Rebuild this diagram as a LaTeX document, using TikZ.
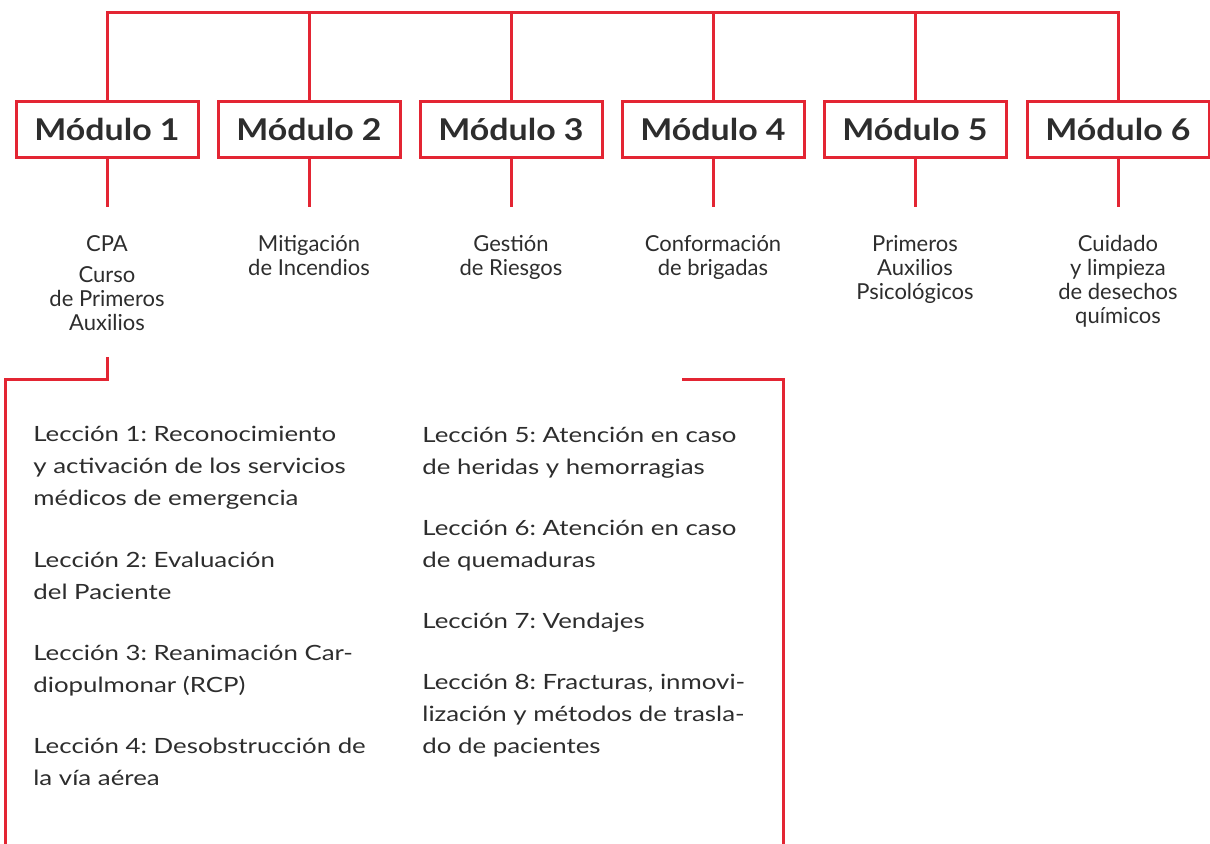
\documentclass[tikz,border=0pt]{standalone}
\usepackage{fontspec}
\setmainfont{Lato}
\newfontfamily\modfont{Lato}[FakeStretch=1.13]
\newfontfamily\lessonfont{Lato}[FakeStretch=1.23]
\frenchspacing
\definecolor{modred}{RGB}{227,37,51}
\definecolor{txtgray}{RGB}{45,45,45}
\tikzset{
  modbox/.style={draw=modred, line width=1.5pt, minimum width=91pt, minimum height=28pt, inner sep=0pt, text=txtgray, font=\modfont\fontsize{15}{18}\selectfont\bfseries},
  link/.style={draw=modred, line width=1.5pt},
  modlabel/.style={anchor=base, align=center, inner sep=0pt, text=txtgray, font=\fontsize{11}{12}\selectfont},
  lesson/.style={anchor=base west, align=left, inner sep=0pt, text=txtgray, font=\lessonfont\fontsize{10.5}{15.85}\selectfont}
}
\begin{document}
\begin{tikzpicture}[x=0.5pt, y=-0.5pt]
    \useasboundingbox (0,0) rectangle (1210,844);
    \node[modbox] (m1) at (107,129.5) {Módulo 1};
    \node[modbox] (m2) at (309,129.5) {Módulo 2};
    \node[modbox] (m3) at (511,129.5) {Módulo 3};
    \node[modbox] (m4) at (713,129.5) {Módulo 4};
    \node[modbox] (m5) at (915,129.5) {Módulo 5};
    \node[modbox] (m6) at (1118,129.5) {Módulo 6};
    \coordinate (bar) at (0,13);
    \coordinate (stem) at (0,207);
    \draw[link] (m1.north) -- (m1.north |- bar) -- (m6.north |- bar) -- (m6.north);
    \foreach \i in {2,...,5} \draw[link] (m\i.north) -- (m\i.north |- bar);
    \foreach \i in {1,...,6} \draw[link] (m\i.south) -- (m\i.south |- stem);
    \node[modlabel] (l1) at (107,331) {CPA\\[3.5pt]Curso\\de Primeros\\Auxilios};
    \node[modlabel] (l2) at (309,276) {Mitigación\\de Incendios};
    \node[modlabel] (l3) at (511,276) {Gestión\\de Riesgos};
    \node[modlabel] (l4) at (713,276) {Conformación\\de brigadas};
    \node[modlabel] (l5) at (915,300) {Primeros\\Auxilios\\Psicológicos};
    \node[modlabel] (l6) at (1118,324) {Cuidado\\y limpieza\\de desechos\\químicos};
    \coordinate (cpa) at (107,357);
    \coordinate (bl) at (5,379.5);
    \coordinate (rs) at (682,379.5);
    \coordinate (br) at (783,379.5);
    \coordinate (bottom) at (0,850);
    \draw[link] (cpa) |- (bl) -- (bl |- bottom);
    \draw[link] (rs) -- (br) -- (br |- bottom);
    \node[lesson] (c1) at (33,505) {Lección 1: Reconocimiento\\y activación de los servicios\\médicos de emergencia};
    \node[lesson] (c2) at (33,599) {Lección 2: Evaluación\\del Paciente};
    \node[lesson] (c3) at (33,692) {Lección 3: Reanimación Car-\\diopulmonar (RCP)};
    \node[lesson] (c4) at (33,785) {Lección 4: Desobstrucción de\\la vía aérea};
    \node[lesson] (c5) at (422,474) {Lección 5: Atención en caso\\de heridas y hemorragias};
    \node[lesson] (c6) at (422,567) {Lección 6: Atención en caso\\de quemaduras};
    \node[lesson] (c7) at (422,628) {Lección 7: Vendajes};
    \node[lesson] (c8) at (422,753) {Lección 8: Fracturas, inmovi-\\lización y métodos de trasla-\\do de pacientes};
\end{tikzpicture}
\end{document}
